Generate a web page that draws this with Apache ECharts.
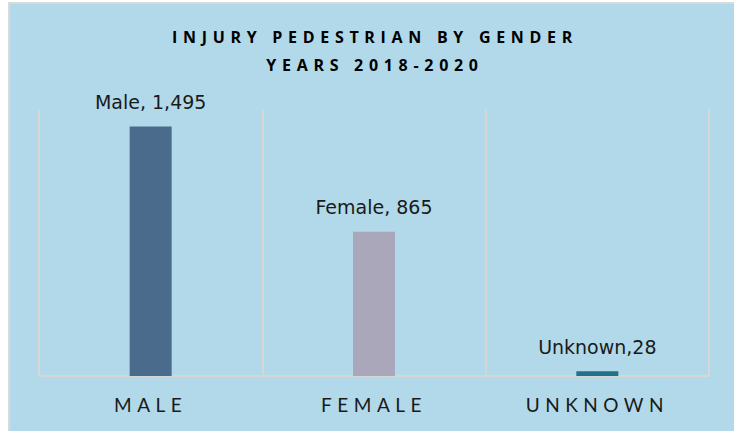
<!DOCTYPE html>
<html>
<head>
<meta charset="utf-8">
<title>Injury pedestrian by gender</title>
<script src="https://cdn.jsdelivr.net/npm/echarts@6/dist/echarts.min.js"></script>
<style>
  html, body { margin: 0; padding: 0; background: #fff; }
  /* 外框 + 背景 */
  .frame {
    position: absolute; left: 8px; top: 2px; right: 0; bottom: 0;
    border-left: 2px solid #d9d9d9; border-top: 2px solid #d9d9d9;
    background: #b1d9e9;
  }
  #chart { position: absolute; left: 0; top: 0; width: 734px; height: 431px; }
  /* 标题和x轴标签的字间距 */
  #chart text[style*="Open Sans"] { letter-spacing: 5.7px; }
  #chart text[style*="Lato"] { letter-spacing: 5.5px; }
</style>
</head>
<body>
<div class="frame"></div>
<div id="chart"></div>
<script>
// 数据
const categories = ['MALE', 'FEMALE', 'UNKNOWN']
const values = [1495, 865, 28]
const pointLabels = ['Male, 1,495', 'Female, 865', 'Unknown,28']
const barColors = ['#4a6b8b', '#aba7bb', '#246f8a']
const titleLines = ['INJURY PEDESTRIAN BY GENDER', 'YEARS 2018-2020']

const myChart = echarts.init(document.getElementById('chart'), null, { renderer: 'svg' })

const options = {
  backgroundColor: 'transparent',
  animation: false,
  title: {
    text: titleLines.join('\n'),
    left: 375,
    textAlign: 'center',
    top: 23,
    padding: 0,
    textStyle: {
      fontFamily: 'Open Sans',
      fontWeight: 'bold',
      fontSize: 16,
      lineHeight: 28,
      color: '#000'
    }
  },
  grid: { left: 39, right: 25, top: 109, bottom: 55 },
  xAxis: {
    type: 'category',
    data: categories,
    axisLine: { lineStyle: { color: '#d6d6d6', width: 2 } },
    axisTick: { show: false },
    splitLine: { show: true, lineStyle: { color: '#d6d6d6', width: 2 } },
    axisLabel: {
      fontFamily: 'Lato',
      fontSize: 19,
      lineHeight: 20,
      margin: 18,
      color: '#1a1a1a'
    }
  },
  yAxis: {
    type: 'value',
    min: 0,
    max: 1600,
    show: false
  },
  series: [
    {
      type: 'bar',
      barWidth: 42,
      data: values.map((v, i) => ({
        value: v,
        itemStyle: { color: barColors[i] },
        label: { formatter: pointLabels[i] }
      })),
      label: {
        show: true,
        position: 'top',
        distance: 15,
        fontFamily: 'DejaVu Sans',
        fontSize: 19,
        color: '#1a1a1a'
      }
    }
  ]
}

myChart.setOption(options)
</script>
</body>
</html>
